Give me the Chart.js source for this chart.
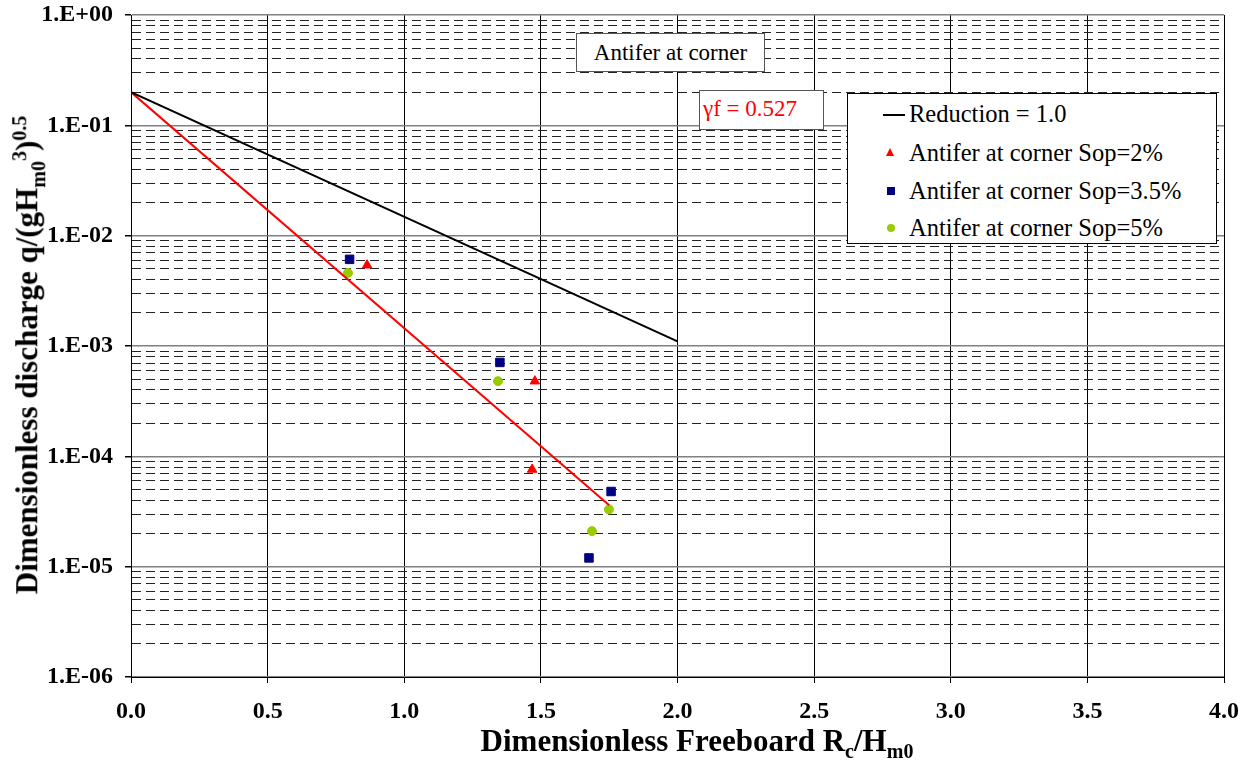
<!DOCTYPE html>
<html>
<head>
<meta charset="utf-8">
<script src="https://cdn.jsdelivr.net/npm/chart.js@4"></script>
<style>
    body { margin: 0; background: #fff; }
    #wrap { position: relative; width: 1253px; height: 764px; font-family: "Liberation Serif", "Times New Roman", serif; }
    #chart { position: absolute; left: 0; top: 0; }
    .box { position: absolute; background: #fff; border: 1px solid #555; font-size: 23px; box-sizing: border-box; }
    #ytitle { position: absolute; left: 29px; top: 355px; transform: translate(-50%, -50%) rotate(-90deg); white-space: nowrap; font-weight: bold; font-size: 31px; }
    #xtitle { position: absolute; left: 697px; top: 743px; transform: translate(-50%, -50%); white-space: nowrap; font-weight: bold; font-size: 31px; }
    #ytitle sub, #ytitle sup, #xtitle sub { font-size: 20px; }
    #legend { position: absolute; left: 847px; top: 93px; width: 370px; height: 151px; background: #fff; border: 1px solid #000; font-size: 24.5px; box-sizing: border-box; }
    .item { position: absolute; left: 61px; white-space: nowrap; line-height: 29px; }
    .mk { position: absolute; }
</style>
</head>
<body>
<div id="wrap">
    <canvas id="chart" width="1253" height="764"></canvas>
    <div class="box" style="left:576px;top:33px;width:189px;height:39px;line-height:37px;text-align:center;">Antifer at corner</div>
    <div class="box" style="left:699px;top:90px;width:125px;height:40px;line-height:36px;color:#ff0000;padding-left:3px;">&gamma;f = 0.527</div>
    <div id="legend">
        <div class="mk" style="left:35px;top:20px;width:22px;height:2px;background:#000;"></div>
        <div class="item" style="top:5px;">Reduction = 1.0</div>
        <div class="mk" style="left:38px;top:54px;width:0;height:0;border-left:4.5px solid transparent;border-right:4.5px solid transparent;border-bottom:8px solid #ff0000;"></div>
        <div class="item" style="top:44px;">Antifer at corner Sop=2%</div>
        <div class="mk" style="left:39px;top:93px;width:8px;height:8px;background:#000080;"></div>
        <div class="item" style="top:82px;">Antifer at corner Sop=3.5%</div>
        <div class="mk" style="left:39px;top:130px;width:8px;height:8px;border-radius:50%;background:#99cc00;"></div>
        <div class="item" style="top:119px;">Antifer at corner Sop=5%</div>
    </div>
    <div id="ytitle">Dimensionless discharge q/(gH<sub>m0</sub><sup>3</sup>)<sup>0.5</sup></div>
    <div id="xtitle">Dimensionless Freeboard R<sub>c</sub>/H<sub>m0</sub></div>
</div>
<script>
// x ticks and y decades
const xTicks = [0, 0.5, 1.0, 1.5, 2.0, 2.5, 3.0, 3.5, 4.0];
const yExponents = [-6, -5, -4, -3, -2, -1, 0];
const yMinorSteps = [2, 3, 4, 5, 6, 7, 8, 9];

// lines
const reductionX = [0, 2.0];
const reductionY = [0.2, 0.0011];
const fitX = [0, 1.75];
const fitY = [0.2, 3.6e-5];

// measured points
const sop2X = [0.864, 1.478, 1.468];
const sop2Y = [5.4e-3, 4.8e-4, 7.6e-5];
const sop35X = [0.800, 1.350, 1.757, 1.676];
const sop35Y = [6.1e-3, 7.1e-4, 4.8e-5, 1.2e-5];
const sop5X = [0.794, 1.343, 1.749, 1.687];
const sop5Y = [4.6e-3, 4.8e-4, 3.3e-5, 2.1e-5];

function pts(xs, ys) {
    return xs.map((x, i) => ({ x: x, y: ys[i] }));
}

function isDecade(v) {
    const l = Math.log10(v);
    return Math.abs(l - Math.round(l)) < 1e-6;
}

const tickFont = { family: '"Liberation Serif", "Times New Roman", serif', size: 24, weight: 'bold' };

const ctx = document.getElementById('chart').getContext('2d');
const myChart = new Chart(ctx, {
    type: 'scatter',
    data: {
        datasets: [{
            label: 'Reduction = 1.0',
            data: pts(reductionX, reductionY),
            showLine: true,
            borderColor: '#000',
            borderWidth: 2,
            pointRadius: 0
        }, {
            label: 'fit',
            data: pts(fitX, fitY),
            showLine: true,
            borderColor: '#ff0000',
            borderWidth: 2,
            pointRadius: 0
        }, {
            label: 'Antifer at corner Sop=2%',
            data: pts(sop2X, sop2Y),
            pointStyle: 'triangle',
            pointRadius: 5.5,
            backgroundColor: '#ff0000',
            borderColor: '#ff0000'
        }, {
            label: 'Antifer at corner Sop=3.5%',
            data: pts(sop35X, sop35Y),
            pointStyle: 'rect',
            pointRadius: 6,
            backgroundColor: '#000080',
            borderColor: '#000080'
        }, {
            label: 'Antifer at corner Sop=5%',
            data: pts(sop5X, sop5Y),
            pointStyle: 'circle',
            pointRadius: 4.5,
            backgroundColor: '#99cc00',
            borderColor: '#99cc00'
        }]
    },
    options: {
        responsive: false,
        animation: false,
        layout: { padding: { left: 0, top: 15, right: 29, bottom: 0 } },
        plugins: { legend: { display: false }, tooltip: { enabled: false } },
        scales: {
            x: {
                type: 'linear',
                min: 0,
                max: 4,
                afterBuildTicks: (scale) => { scale.ticks = xTicks.map(v => ({ value: v })); },
                afterFit: (scale) => { scale.height = 87; },
                ticks: {
                    color: '#000',
                    font: tickFont,
                    padding: 14,
                    maxRotation: 0,
                    callback: (v) => v.toFixed(1)
                },
                grid: { color: '#000', lineWidth: 1, tickLength: 6, tickColor: '#000' },
                border: { color: '#000', width: 1 }
            },
            y: {
                type: 'logarithmic',
                min: 1e-6,
                max: 1,
                afterBuildTicks: (scale) => {
                    const t = [];
                    yExponents.forEach(e => {
                        t.push({ value: Math.pow(10, e) });
                        if (e < 0) yMinorSteps.forEach(m => t.push({ value: m * Math.pow(10, e) }));
                    });
                    t.sort((a, b) => a.value - b.value);
                    scale.ticks = t;
                },
                afterFit: (scale) => {
                    scale.width = 131;
                    scale.paddingTop = 0;
                    scale.paddingBottom = 0;
                },
                ticks: {
                    color: '#000',
                    font: tickFont,
                    padding: 12,
                    autoSkip: false,
                    callback: (v) => {
                        if (!isDecade(v)) return '';
                        const e = Math.round(Math.log10(v));
                        return '1.E' + (e >= 0 ? '+' : '-') + String(Math.abs(e)).padStart(2, '0');
                    }
                },
                grid: {
                    color: (c) => (c.tick && !isDecade(c.tick.value)) ? '#222' : '#808080',
                    lineWidth: (c) => (c.tick && !isDecade(c.tick.value)) ? 1 : 1.5,
                    tickLength: 6,
                    tickColor: (c) => (c.tick && !isDecade(c.tick.value)) ? 'rgba(0,0,0,0)' : '#000'
                },
                border: {
                    color: '#000',
                    width: 1,
                    dash: (c) => (c.tick && !isDecade(c.tick.value)) ? [9, 5] : []
                }
            }
        }
    }
});
</script>
</body>
</html>
